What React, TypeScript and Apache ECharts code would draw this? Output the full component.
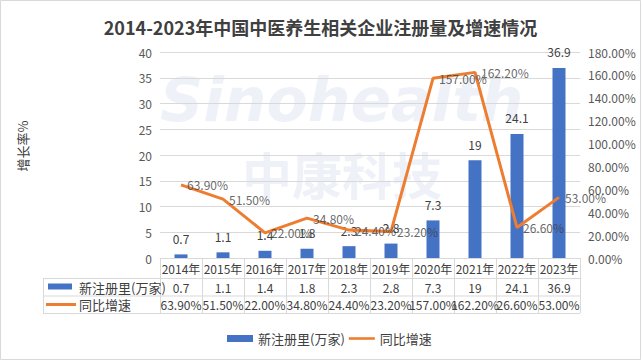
import React, { useEffect, useRef } from "react";
import * as echarts from "echarts";

const title = "2014-2023年中国中医养生相关企业注册量及增速情况";
const years = ["2014年", "2015年", "2016年", "2017年", "2018年", "2019年", "2020年", "2021年", "2022年", "2023年"];
const registrations = [0.7, 1.1, 1.4, 1.8, 2.3, 2.8, 7.3, 19, 24.1, 36.9];
const growth = [63.9, 51.5, 22.0, 34.8, 24.4, 23.2, 157.0, 162.2, 26.6, 53.0];
const barName = "新注册里(万家)";
const lineName = "同比增速";
const yName = "增长率%";

const FONT = "'Microsoft YaHei', 'Noto Sans CJK SC', 'DejaVu Sans', sans-serif";
const TXT = "#404040";
const BORDER = "#d9d9d9";

export default function App() {
  const ref = useRef<HTMLDivElement>(null);
  useEffect(() => {
    document.body.style.margin = "0";
    const chart = echarts.init(ref.current!, null, { renderer: "svg" });
    const W = 641, H = 360;
    const gl = 160, gr = 580, gt = 52, gb = 258;
    const colW = (gr - gl) / years.length;
    const rowY = [258, 278, 295.5, 313];
    const fmtPct = (v: number) => v.toFixed(2) + "%";

    const graphic: any[] = [];
    graphic.push({ type: "rect", shape: { x: 0.5, y: 0.5, width: W - 1, height: H - 1 }, style: { fill: "none", stroke: BORDER, lineWidth: 1 }, silent: true });
    // watermark
    graphic.push({ type: "text", x: 160, y: 70, z: -10, style: { text: "Sinohealth", font: "italic bold 60px 'DejaVu Sans', sans-serif", fill: "#eef2f8" }, silent: true });
    graphic.push({ type: "text", x: 242, y: 148, z: -10, style: { text: "中康科技", font: "bold 50px 'Noto Sans CJK SC', sans-serif", fill: "#eef2f8" }, silent: true });
    // table
    const lineStyle = { stroke: BORDER, lineWidth: 1 };
    for (let r = 1; r < rowY.length; r++) {
      graphic.push({ type: "line", shape: { x1: 43, y1: rowY[r] + 0.5, x2: gr, y2: rowY[r] + 0.5 }, style: lineStyle, silent: true });
    }
    graphic.push({ type: "line", shape: { x1: 43.5, y1: rowY[1], x2: 43.5, y2: rowY[3] }, style: lineStyle, silent: true });
    for (let i = 0; i <= years.length; i++) {
      const x = Math.round(gl + colW * i) + 0.5;
      graphic.push({ type: "line", shape: { x1: x, y1: rowY[0], x2: x, y2: rowY[3] }, style: lineStyle, silent: true });
    }
    years.forEach((y, i) => {
      const cx = gl + colW * (i + 0.5);
      const cells = [y, String(registrations[i]), fmtPct(growth[i])];
      cells.forEach((t, r) => {
        graphic.push({ type: "text", x: cx, y: (rowY[r] + rowY[r + 1]) / 2 + 0.5, style: { text: t, align: "center", verticalAlign: "middle", font: `12px ${FONT}`, fill: TXT }, silent: true });
      });
    });
    graphic.push({ type: "rect", shape: { x: 48, y: 283.5, width: 24, height: 6 }, style: { fill: "#4472C4" }, silent: true });
    graphic.push({ type: "text", x: 79, y: 287, style: { text: barName, verticalAlign: "middle", font: `13px ${FONT}`, fill: TXT }, silent: true });
    graphic.push({ type: "line", shape: { x1: 46, y1: 304.5, x2: 76, y2: 304.5 }, style: { stroke: "#ED7D31", lineWidth: 3 }, silent: true });
    graphic.push({ type: "text", x: 79, y: 304.5, style: { text: lineName, verticalAlign: "middle", font: `13px ${FONT}`, fill: TXT }, silent: true });
    graphic.push({ type: "text", x: 22, y: 146, rotation: Math.PI / 2, style: { text: yName, align: "center", verticalAlign: "middle", font: `13px ${FONT}`, fill: TXT }, silent: true });

    chart.setOption({
      animation: false,
      backgroundColor: "#fff",
      title: { text: title, left: "center", top: 13, textStyle: { fontSize: 18, fontWeight: "bold", color: TXT, fontFamily: FONT } },
      grid: { left: gl, right: W - gr, top: gt, bottom: H - gb },
      legend: {
        bottom: 10, left: 222, itemGap: 4, itemWidth: 26, itemHeight: 7,
        textStyle: { fontSize: 13, color: TXT, fontFamily: FONT },
        data: [
          { name: barName, icon: "rect" },
          { name: lineName, icon: "path://M0,0L30,0L30,3L0,3Z", itemStyle: { color: "#ED7D31" } },
        ],
      },
      xAxis: {
        type: "category", data: years,
        axisLine: { lineStyle: { color: BORDER } }, axisTick: { show: false }, axisLabel: { show: false },
      },
      yAxis: [
        {
          type: "value", min: 0, max: 40, interval: 5,
          axisLine: { show: false }, axisTick: { show: false },
          axisLabel: { fontSize: 12, color: "#595959", fontFamily: FONT, margin: 8 },
          splitLine: { lineStyle: { color: BORDER } },
        },
        {
          type: "value", min: 0, max: 180, interval: 20,
          axisLine: { show: false }, axisTick: { show: false },
          axisLabel: { fontSize: 12, color: "#595959", fontFamily: FONT, margin: 8, formatter: (v: number) => v.toFixed(2) + "%" },
          splitLine: { show: false },
        },
      ],
      series: [
        {
          name: barName, type: "bar", data: registrations, barWidth: 13, z: 2,
          itemStyle: { color: "#4472C4" },
          label: { show: true, position: "top", distance: 10, fontSize: 12, color: TXT, fontFamily: FONT },
        },
        {
          name: lineName, type: "line", yAxisIndex: 1, data: growth, symbol: "none", z: 3,
          lineStyle: { color: "#ED7D31", width: 3 }, itemStyle: { color: "#ED7D31" },
        },
        {
          name: lineName + "标签", type: "scatter", yAxisIndex: 1, data: growth, symbolSize: 0, z: 4,
          itemStyle: { color: "transparent" }, tooltip: { show: false },
          label: { show: true, position: "right", distance: 6, fontSize: 12, color: TXT, fontFamily: FONT, formatter: (p: any) => fmtPct(p.value) },
        },
      ],
      graphic,
    });
    return () => chart.dispose();
  }, []);
  return <div ref={ref} style={{ width: 641, height: 360 }} />;
}
